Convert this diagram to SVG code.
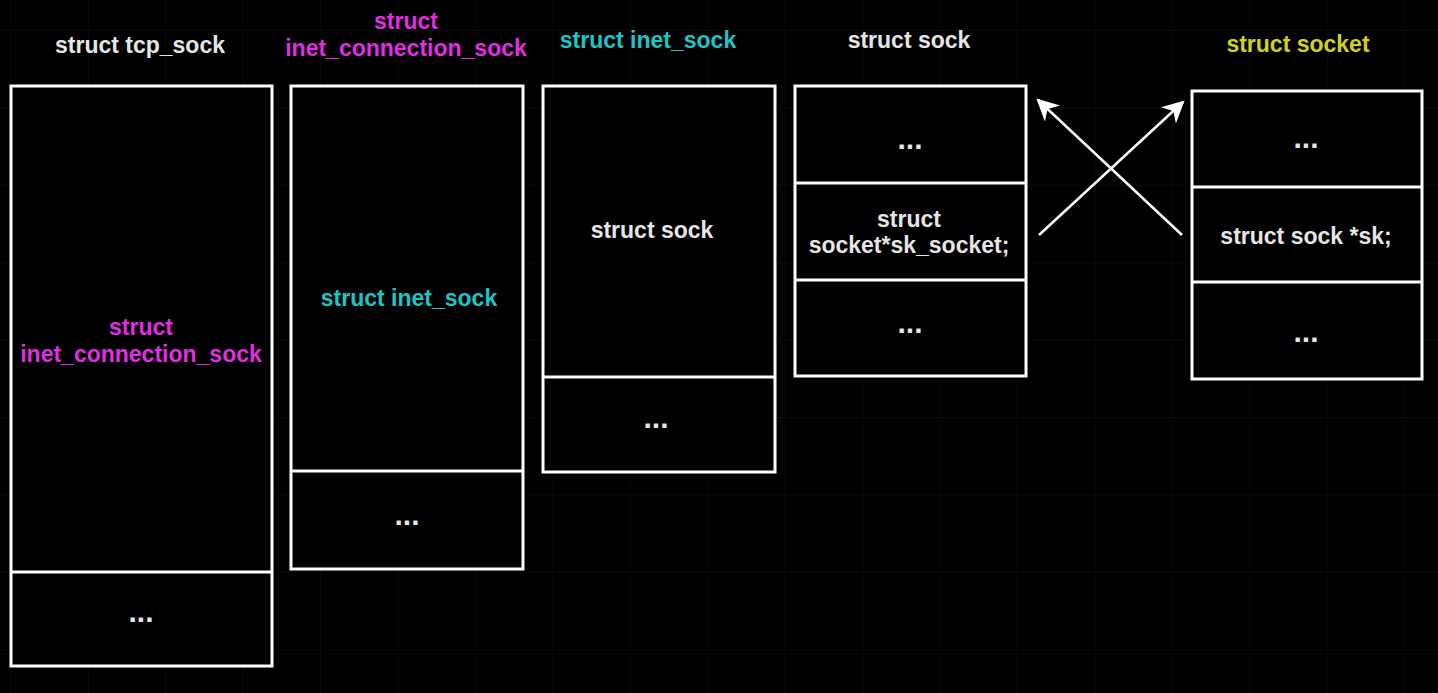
<svg xmlns="http://www.w3.org/2000/svg" width="1438" height="693" viewBox="0 0 1438 693">
<defs>
<style>
.box{fill:#000;stroke:#fff;stroke-width:3}
.div{stroke:#fff;stroke-width:3}
.t{font-family:"Liberation Sans",Arial,sans-serif;font-size:23px;font-weight:bold;text-anchor:middle;fill:#e6e6e6}
.dots{font-family:"Liberation Sans",Arial,sans-serif;font-size:30px;font-weight:bold;text-anchor:middle;fill:#e6e6e6}
.mag{fill:#e02ee0}
.cyan{fill:#1bc6c6}
.yel{fill:#d2d21e}
.grid{stroke:#161616;stroke-width:1}
.conn{stroke:#fff;stroke-width:2.5;fill:none}
</style>
<marker id="arr" viewBox="0 0 10 10" refX="9" refY="5" markerWidth="24" markerHeight="22" markerUnits="userSpaceOnUse" orient="auto">
<path d="M0,0 L10,5 L0,10 L3,5 z" fill="#fff"/>
</marker>
<pattern id="gp" x="10.7" y="30" width="77.4" height="77.4" patternUnits="userSpaceOnUse">
<path d="M0,0 V77.4 M0,0 H77.4" class="grid"/>
</pattern>
</defs>
<rect x="0" y="0" width="1438" height="693" fill="#000"/>
<rect x="0" y="0" width="1438" height="693" fill="url(#gp)"/>

<g id="tcp_sock">
<text class="t" x="140" y="53">struct tcp_sock</text>
<rect class="box" x="11" y="86" width="261" height="580"/>
<line class="div" x1="11" y1="572" x2="272" y2="572"/>
<text class="t mag" x="141" y="335">struct</text>
<text class="t mag" x="141" y="362">inet_connection_sock</text>
<text class="dots" x="141" y="622">...</text>
</g>

<g id="inet_connection_sock">
<text class="t mag" x="406" y="29">struct</text>
<text class="t mag" x="406" y="56">inet_connection_sock</text>
<rect class="box" x="291" y="86" width="232" height="483"/>
<line class="div" x1="291" y1="471" x2="523" y2="471"/>
<text class="t cyan" x="409" y="306">struct inet_sock</text>
<text class="dots" x="407" y="525">...</text>
</g>

<g id="inet_sock">
<text class="t cyan" x="648" y="48">struct inet_sock</text>
<rect class="box" x="543" y="86" width="232" height="386"/>
<line class="div" x1="543" y1="377" x2="775" y2="377"/>
<text class="t" x="652" y="238">struct sock</text>
<text class="dots" x="656" y="428">...</text>
</g>

<g id="sock">
<text class="t" x="909" y="48">struct sock</text>
<rect class="box" x="795" y="86" width="231" height="290"/>
<line class="div" x1="795" y1="183" x2="1026" y2="183"/>
<line class="div" x1="795" y1="280" x2="1026" y2="280"/>
<text class="dots" x="910" y="149">...</text>
<text class="t" x="909" y="227">struct</text>
<text class="t" x="909" y="253">socket*sk_socket;</text>
<text class="dots" x="910" y="333">...</text>
</g>

<g id="socket">
<text class="t yel" x="1298" y="52">struct socket</text>
<rect class="box" x="1192" y="91" width="230" height="288"/>
<line class="div" x1="1192" y1="187" x2="1422" y2="187"/>
<line class="div" x1="1192" y1="282" x2="1422" y2="282"/>
<text class="dots" x="1306" y="148">...</text>
<text class="t" x="1306" y="244">struct sock *sk;</text>
<text class="dots" x="1306" y="342">...</text>
</g>

<g id="connectors">
<line class="conn" x1="1039" y1="235" x2="1183" y2="102" marker-end="url(#arr)"/>
<line class="conn" x1="1182" y1="235" x2="1038" y2="100" marker-end="url(#arr)"/>
</g>
</svg>
